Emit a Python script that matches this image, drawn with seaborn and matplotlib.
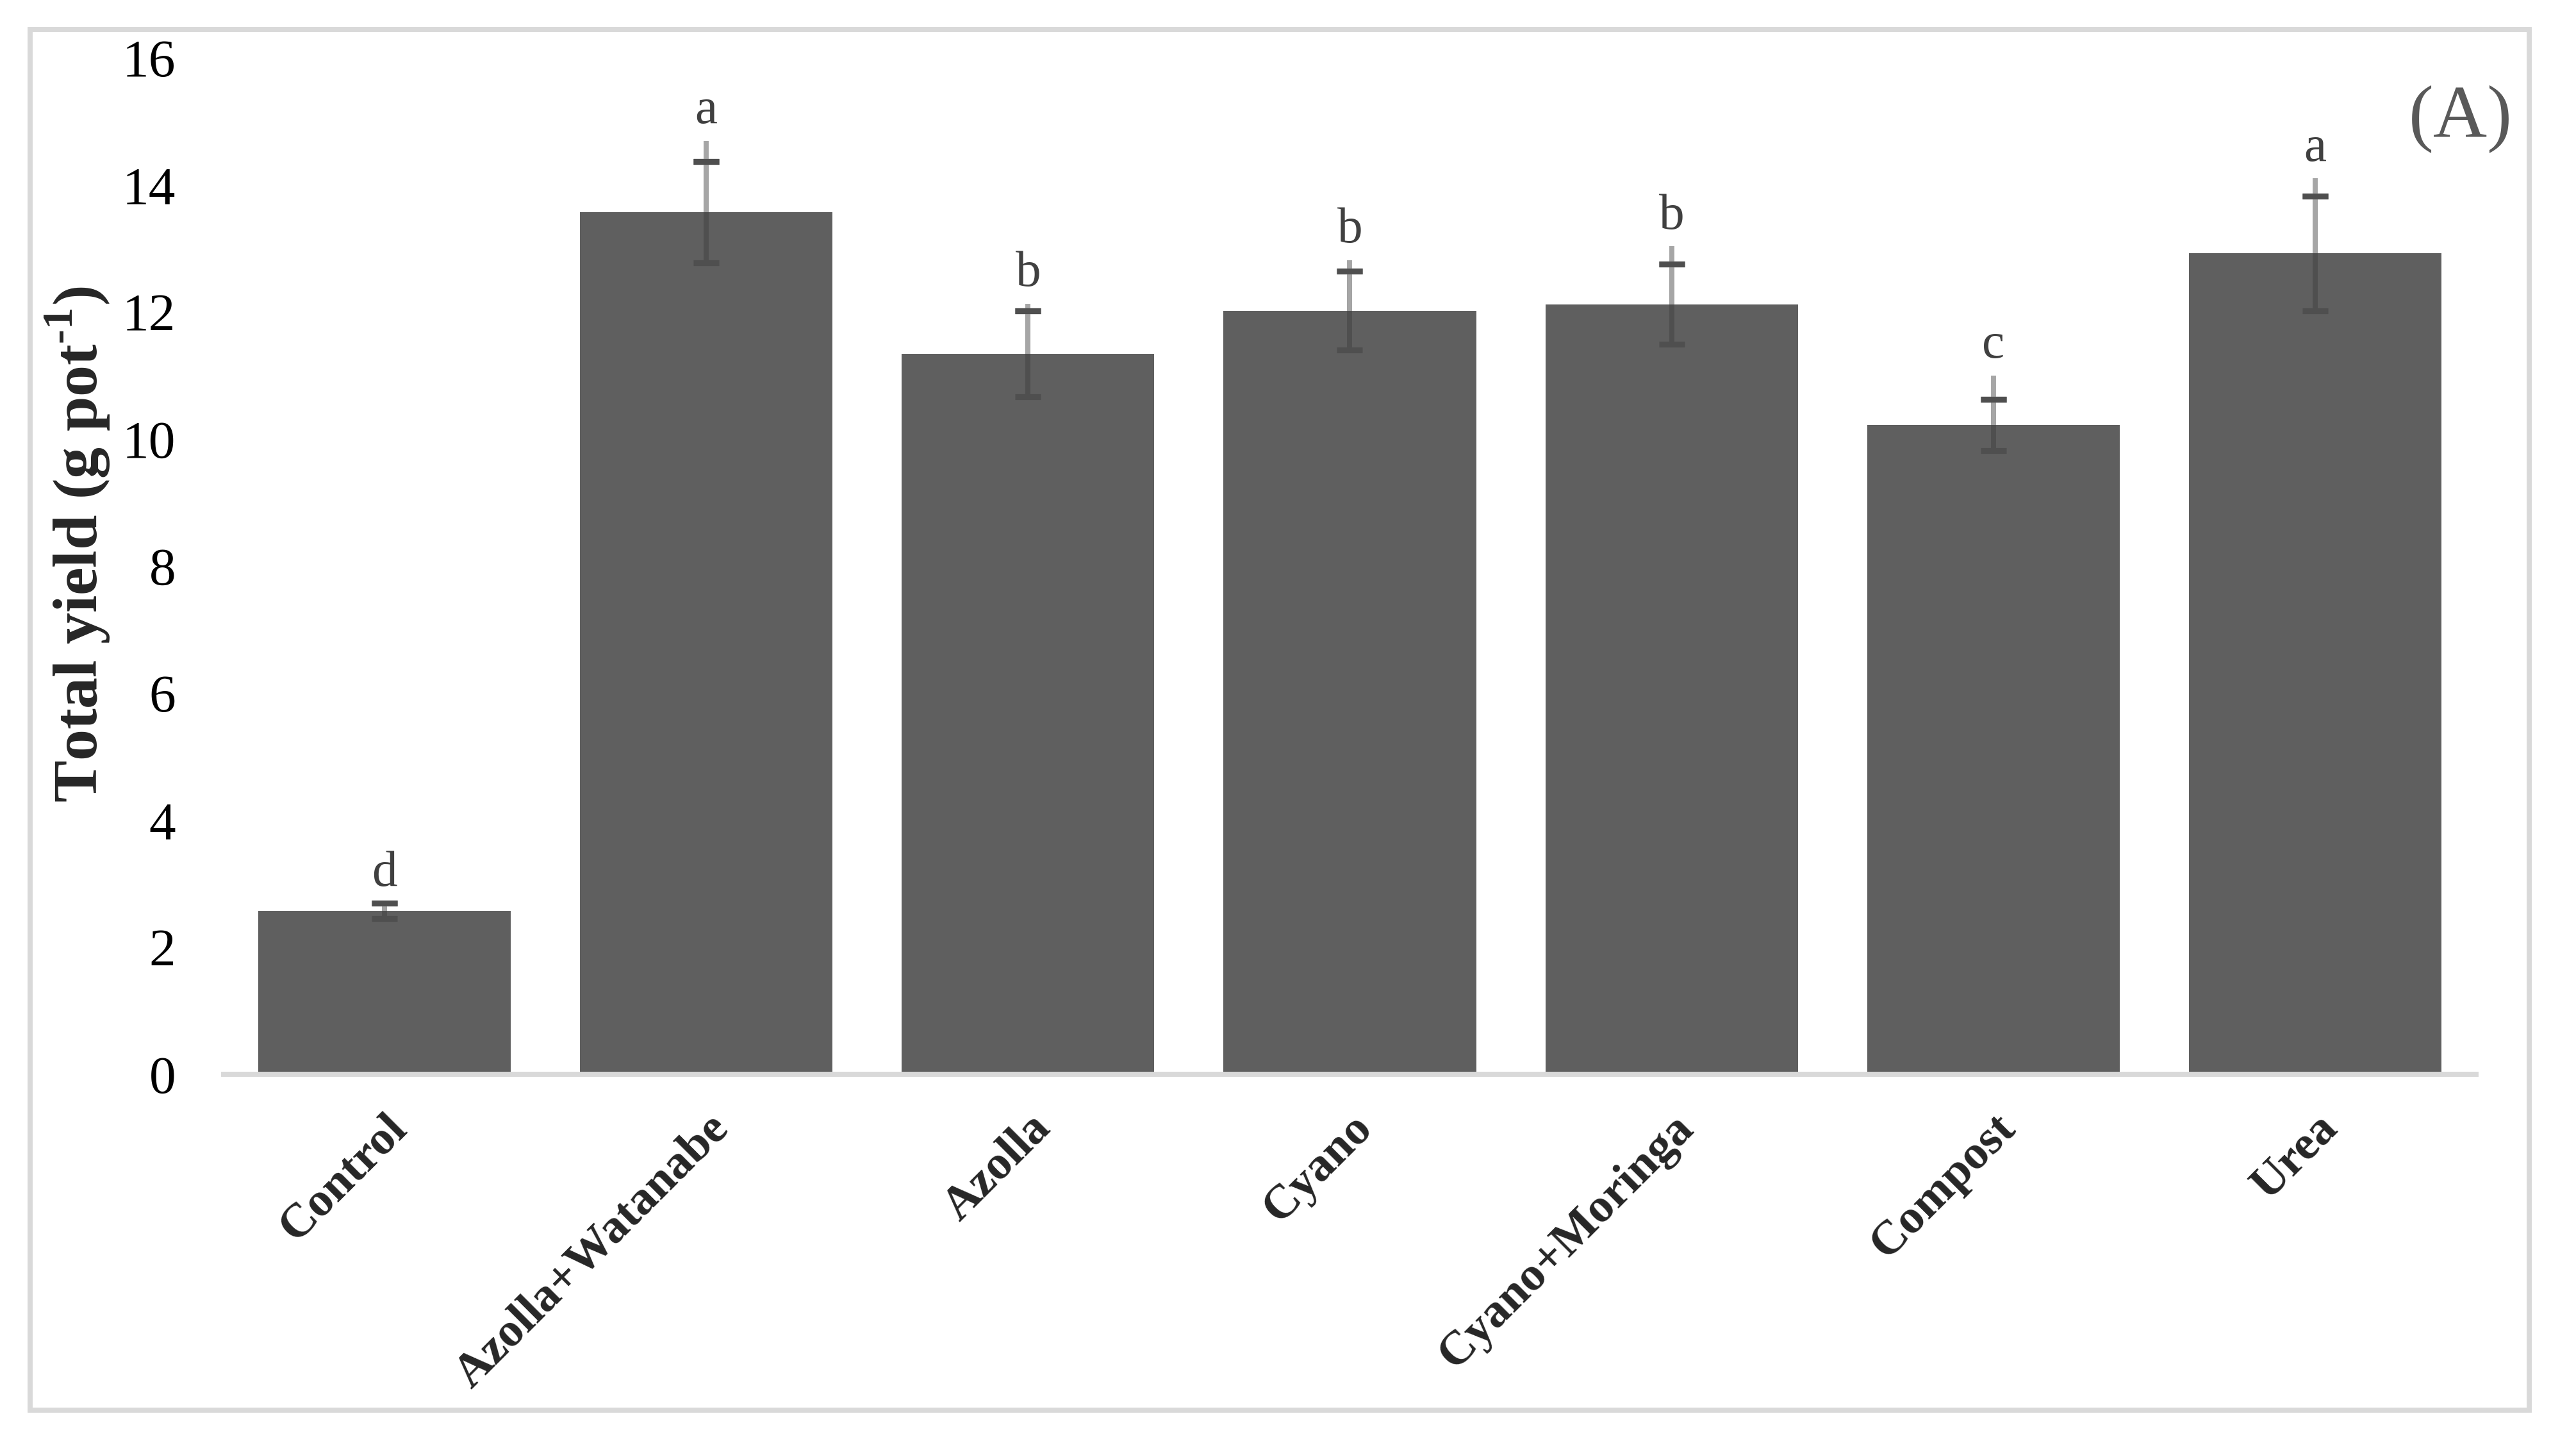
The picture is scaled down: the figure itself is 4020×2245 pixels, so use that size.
import numpy as np
import pandas as pd
import matplotlib.pyplot as plt
import seaborn as sns
from matplotlib.patches import Rectangle

# Data
treatments = ["Control", "Azolla+Watanabe", "Azolla", "Cyano", "Cyano+Moringa", "Compost", "Urea"]
yield_mean = [2.57, 13.57, 11.34, 12.02, 12.12, 10.22, 12.92]
yield_se = [0.12, 0.80, 0.68, 0.62, 0.63, 0.40, 0.90]
whisker_top = [2.69, 14.69, 12.13, 12.81, 13.03, 11.00, 14.10]
letters = ["d", "a", "b", "b", "b", "c", "a"]
y_ticks = [0, 2, 4, 6, 8, 10, 12, 14, 16]

df = pd.DataFrame({"Treatment": treatments, "Yield": yield_mean})

sns.set_style("white")
plt.rcParams["font.family"] = ["Liberation Serif", "DejaVu Serif"]
plt.rcParams["mathtext.fontset"] = "custom"
plt.rcParams["mathtext.rm"] = "Liberation Serif"
plt.rcParams["mathtext.bf"] = "Liberation Serif:bold"

W, H = 4020, 2245
fig, ax = plt.subplots(figsize=(W / 300, H / 300), dpi=300)
fig.subplots_adjust(left=349 / W, right=3864 / W, bottom=1 - 1676 / H, top=1 - 90 / H)

sns.barplot(data=df, x="Treatment", y="Yield", color="#5f5f5f", saturation=1,
            width=0.785, errorbar=None, linewidth=0, ax=ax)

x = np.arange(len(treatments))
mean = np.array(yield_mean)
se = np.array(yield_se)

# error bars: dark stem + caps, grey extension above the bar
ax.errorbar(x, mean, yerr=se, fmt="none", ecolor="#4f4f4f", elinewidth=1.9,
            capsize=4.8, capthick=2.2, zorder=3)
ax.vlines(x, mean, whisker_top, color="#a6a6a6", lw=1.9, zorder=4)
ax.plot(x, mean + se, ls="none", marker="_", ms=9.6, mew=2.2, color="#4f4f4f", zorder=5)

for i, (top, lab) in enumerate(zip(whisker_top, letters)):
    ax.text(i, top + 0.28, lab, ha="center", va="baseline", fontsize=19, color="#404040")

ax.set_ylim(0, 16)
ax.set_yticks(y_ticks)
ax.set_xlim(-0.5, len(treatments) - 0.5)
sns.despine(ax=ax, left=True, top=True, right=True)
ax.spines["bottom"].set_color("#d9d9d9")
ax.spines["bottom"].set_linewidth(1.9)

ax.tick_params(axis="y", length=0, pad=18, labelsize=20, labelcolor="black")
ax.tick_params(axis="x", length=0, pad=12)
ax.set_xticks(x)
ax.set_xticklabels(treatments, rotation=45, ha="right", va="top", rotation_mode="anchor",
                   fontsize=18, fontweight="bold")
ax.set_xlabel("")
ax.set_ylabel("Total yield (g pot$^{\\mathbf{\u2010 1}}$)", fontsize=23.5, fontweight="bold")
ax.yaxis.set_label_coords(-0.0495, 0.5215)

# outer border and panel tag
fig.patches.append(Rectangle((47 / W, 1 - 2200 / H), (3947 - 47) / W, (2200 - 46) / H,
                             transform=fig.transFigure, fill=False,
                             edgecolor="#d9d9d9", lw=1.9))
fig.text(3921 / W, 1 - 185 / H, "(A)", ha="right", va="center", fontsize=28, color="#595959")

fig.savefig("out.png", dpi=300)
